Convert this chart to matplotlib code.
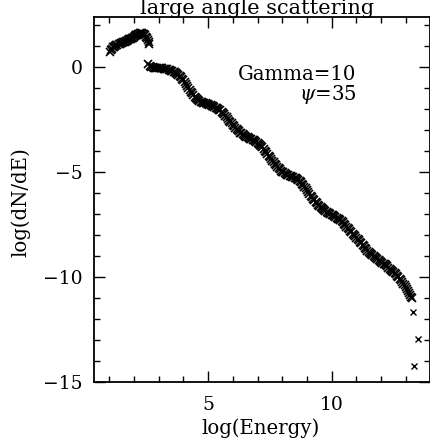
import matplotlib
matplotlib.use('Agg')
import matplotlib.pyplot as plt
from matplotlib.ticker import MultipleLocator

plt.rcParams['font.family'] = ['DejaVu Serif']
plt.rcParams['mathtext.fontset'] = 'dejavuserif'

# low energy branch
x_low = [1.03, 1.06, 1.1, 1.14, 1.18, 1.22, 1.27, 1.33, 1.38, 1.42, 1.46, 1.5, 1.54,
         1.58, 1.62, 1.66, 1.7, 1.74, 1.78, 1.82, 1.86, 1.9, 1.94, 1.98, 2.02, 2.06,
         2.1, 2.14, 2.18, 2.22, 2.26, 2.3, 2.34, 2.38, 2.42, 2.46, 2.5, 2.53, 2.56,
         2.59, 2.62]
y_low = [0.73, 0.8, 0.88, 0.95, 0.97, 1.0, 1.03, 1.06, 1.08, 1.1, 1.12, 1.15, 1.17,
         1.19, 1.21, 1.23, 1.26, 1.28, 1.31, 1.33, 1.35, 1.38, 1.4, 1.43, 1.47, 1.5,
         1.52, 1.54, 1.56, 1.58, 1.6, 1.61, 1.61, 1.59, 1.55, 1.5, 1.43, 1.36, 1.28,
         1.2, 1.1]

# main spectrum
x_main = [2.58, 2.64, 2.7, 2.75, 2.8, 2.85, 2.9, 2.95, 3.0, 3.05, 3.1, 3.15, 3.2,
          3.25, 3.3, 3.35, 3.4, 3.45, 3.5, 3.55, 3.6, 3.65, 3.7, 3.75, 3.8, 3.85,
          3.9, 3.95, 4.0, 4.05, 4.1, 4.15, 4.2, 4.25, 4.3, 4.35, 4.4, 4.45, 4.5, 4.55,
          4.6, 4.65, 4.7, 4.75, 4.8, 4.85, 4.9, 4.95, 5.0, 5.05, 5.1, 5.15, 5.2, 5.25,
          5.3, 5.35, 5.4, 5.45, 5.5, 5.55, 5.6, 5.65, 5.7, 5.75, 5.8, 5.85, 5.9, 5.95,
          6.0, 6.05, 6.1, 6.15, 6.2, 6.25, 6.3, 6.35, 6.4, 6.45, 6.5, 6.55, 6.6, 6.65,
          6.7, 6.75, 6.8, 6.85, 6.9, 6.95, 7.0, 7.05, 7.1, 7.15, 7.2, 7.25, 7.3, 7.35,
          7.4, 7.45, 7.5, 7.55, 7.6, 7.65, 7.7, 7.75, 7.8, 7.85, 7.9, 7.95, 8.0, 8.05,
          8.1, 8.15, 8.2, 8.25, 8.3, 8.35, 8.4, 8.45, 8.5, 8.55, 8.6, 8.65, 8.7, 8.75,
          8.8, 8.85, 8.9, 8.95, 9.0, 9.05, 9.1, 9.15, 9.2, 9.25, 9.3, 9.35, 9.4, 9.45,
          9.5, 9.55, 9.6, 9.65, 9.7, 9.75, 9.8, 9.85, 9.9, 9.95, 10.0, 10.05, 10.1,
          10.15, 10.2, 10.25, 10.3, 10.35, 10.4, 10.45, 10.5, 10.55, 10.6, 10.65, 10.7,
          10.75, 10.8, 10.85, 10.9, 10.95, 11.0, 11.05, 11.1, 11.15, 11.2, 11.25, 11.3,
          11.35, 11.4, 11.45, 11.5, 11.55, 11.6, 11.65, 11.7, 11.75, 11.8, 11.85, 11.9,
          11.95, 12.0, 12.05, 12.1, 12.15, 12.2, 12.25, 12.3, 12.35, 12.4, 12.45, 12.5,
          12.55, 12.6, 12.65, 12.7, 12.75, 12.8, 12.85, 12.9, 12.95, 13.0, 13.04,
          13.08, 13.12, 13.16, 13.2, 13.24]
y_main = [0.15, 0.05, 0.0, -0.02, -0.03, -0.04, -0.05, -0.05, -0.06, -0.06, -0.07,
          -0.07, -0.08, -0.09, -0.1, -0.11, -0.13, -0.15, -0.17, -0.19, -0.22, -0.25,
          -0.28, -0.32, -0.36, -0.42, -0.48, -0.56, -0.64, -0.72, -0.8, -0.89, -0.98,
          -1.08, -1.18, -1.26, -1.34, -1.41, -1.48, -1.53, -1.58, -1.62, -1.65, -1.68,
          -1.7, -1.72, -1.73, -1.75, -1.77, -1.8, -1.82, -1.85, -1.88, -1.91, -1.94,
          -1.97, -2.0, -2.03, -2.07, -2.12, -2.17, -2.24, -2.32, -2.4, -2.47, -2.55,
          -2.62, -2.69, -2.76, -2.83, -2.89, -2.96, -3.02, -3.07, -3.12, -3.16, -3.2,
          -3.24, -3.28, -3.32, -3.35, -3.38, -3.41, -3.44, -3.47, -3.5, -3.53, -3.56,
          -3.6, -3.65, -3.7, -3.76, -3.83, -3.9, -3.98, -4.06, -4.14, -4.22, -4.3,
          -4.38, -4.46, -4.54, -4.62, -4.69, -4.76, -4.82, -4.88, -4.93, -4.98, -5.02,
          -5.06, -5.09, -5.12, -5.15, -5.17, -5.2, -5.22, -5.25, -5.27, -5.3, -5.33,
          -5.37, -5.42, -5.48, -5.55, -5.62, -5.7, -5.78, -5.87, -5.95, -6.04, -6.12,
          -6.2, -6.28, -6.35, -6.42, -6.49, -6.56, -6.62, -6.68, -6.73, -6.78, -6.82,
          -6.86, -6.89, -6.93, -6.96, -6.99, -7.03, -7.06, -7.1, -7.14, -7.18, -7.22,
          -7.26, -7.3, -7.35, -7.4, -7.46, -7.53, -7.6, -7.66, -7.73, -7.8, -7.86,
          -7.93, -7.99, -8.06, -8.12, -8.19, -8.26, -8.33, -8.4, -8.47, -8.54, -8.6,
          -8.67, -8.74, -8.8, -8.86, -8.92, -8.97, -9.02, -9.07, -9.11, -9.16, -9.2,
          -9.24, -9.28, -9.32, -9.36, -9.4, -9.45, -9.5, -9.55, -9.6, -9.65, -9.7,
          -9.76, -9.82, -9.88, -9.94, -10.01, -10.08, -10.15, -10.23, -10.31, -10.4,
          -10.5, -10.59, -10.68, -10.77, -10.85, -10.93, -11.0]

# isolated points at highest energy
x_tail = [13.31, 13.49, 13.35]
y_tail = [-11.65, -12.95, -14.24]

fig = plt.figure(figsize=(4.3, 4.46), dpi=100)
ax = fig.add_axes([93.5 / 430, 64 / 446, 337 / 430, 365 / 446])

ax.plot(x_low, y_low, 'x', color='black', ms=5.5, mew=1.2)
ax.plot(x_main, y_main, 'x', color='black', ms=5.5, mew=1.2)
ax.plot(x_tail, y_tail, 'x', color='black', ms=4, mew=1.0)

ax.set_xlim(0.36, 14.0)
ax.set_ylim(-15, 2.38)

ax.xaxis.set_major_locator(MultipleLocator(5))
ax.xaxis.set_minor_locator(MultipleLocator(1))
ax.yaxis.set_major_locator(MultipleLocator(5))
ax.yaxis.set_minor_locator(MultipleLocator(1))
ax.tick_params(which='both', direction='in', top=True, right=True, width=1.0,
               labelsize=13.5)
ax.tick_params(which='major', length=8)
ax.tick_params(which='minor', length=4.5)
ax.tick_params(axis='x', pad=10)
ax.tick_params(axis='y', pad=8)
for s in ax.spines.values():
    s.set_linewidth(1.3)

ax.text(10.99, -0.38, 'Gamma=10', ha='right', va='center', fontsize=14.2)
ax.text(10.99, -1.33, r'$\psi$=35', ha='right', va='center', fontsize=14.2)

fig.text(257 / 430, 1 - 14 / 446, 'large angle scattering', ha='center',
         va='baseline', fontsize=15)
fig.text(261 / 430, 1 - 428 / 446, 'log(Energy)', ha='center', va='center',
         fontsize=14.2)
fig.text(21 / 430, 1 - 202 / 446, 'log(dN/dE)', ha='center', va='center',
         rotation=90, fontsize=14.2)

fig.savefig('out.png', dpi=100)
